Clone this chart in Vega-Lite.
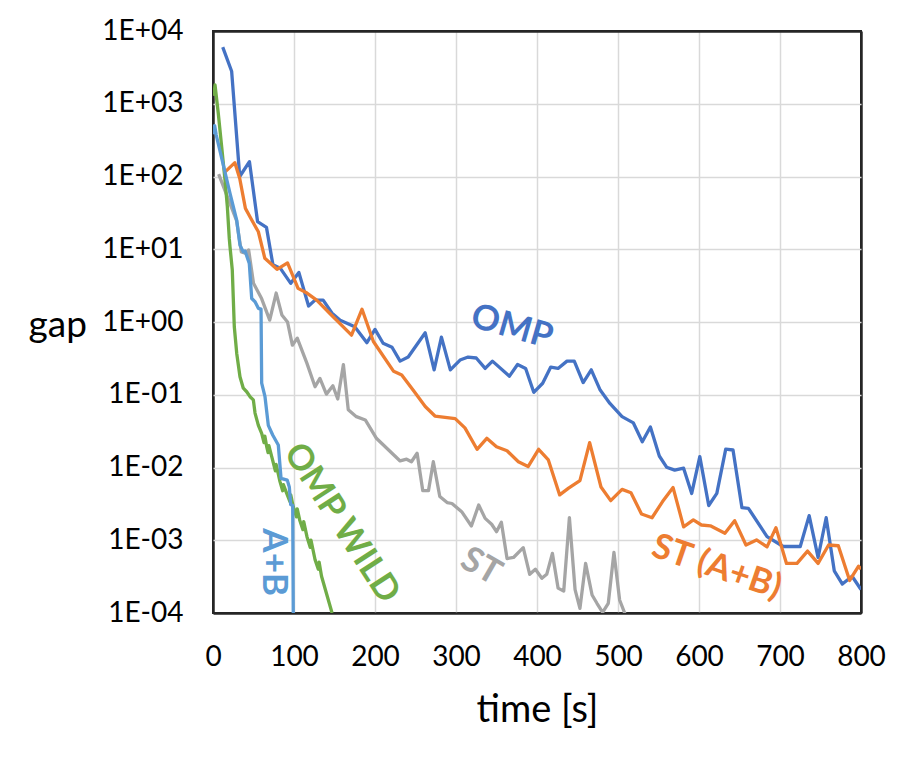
{
  "$schema": "https://vega.github.io/schema/vega-lite/v6.json",
  "width": 648,
  "height": 582,
  "autosize": {"type": "none"},
  "padding": {"left": 213, "top": 31, "right": 48, "bottom": 146},
  "background": "white",
  "config": {
    "font": "Lato",
    "view": {"stroke": "#262626", "strokeWidth": 2},
    "axis": {
      "labelFont": "Lato",
      "titleFont": "Lato",
      "labelColor": "#000000",
      "titleColor": "#000000",
      "titleFontWeight": "normal",
      "domain": false,
      "ticks": false
    }
  },
  "datasets": {
    "series": [
      {"s": "OMP", "t": 12, "g": 6000}, {"s": "OMP", "t": 23, "g": 2800}, {"s": "OMP", "t": 33, "g": 100},
      {"s": "OMP", "t": 45, "g": 160}, {"s": "OMP", "t": 55, "g": 24}, {"s": "OMP", "t": 66, "g": 20},
      {"s": "OMP", "t": 74, "g": 6.1}, {"s": "OMP", "t": 83, "g": 5.5}, {"s": "OMP", "t": 96, "g": 3.4},
      {"s": "OMP", "t": 106, "g": 4.8}, {"s": "OMP", "t": 118, "g": 1.66}, {"s": "OMP", "t": 126, "g": 2.0},
      {"s": "OMP", "t": 136, "g": 2.0}, {"s": "OMP", "t": 147, "g": 1.32}, {"s": "OMP", "t": 157, "g": 1.06},
      {"s": "OMP", "t": 175, "g": 0.86}, {"s": "OMP", "t": 190, "g": 0.52}, {"s": "OMP", "t": 200, "g": 0.79},
      {"s": "OMP", "t": 210, "g": 0.51}, {"s": "OMP", "t": 221, "g": 0.45}, {"s": "OMP", "t": 231, "g": 0.29},
      {"s": "OMP", "t": 241, "g": 0.33}, {"s": "OMP", "t": 262, "g": 0.71}, {"s": "OMP", "t": 273, "g": 0.22},
      {"s": "OMP", "t": 282, "g": 0.62}, {"s": "OMP", "t": 293, "g": 0.22}, {"s": "OMP", "t": 305, "g": 0.30},
      {"s": "OMP", "t": 315, "g": 0.33}, {"s": "OMP", "t": 325, "g": 0.32}, {"s": "OMP", "t": 336, "g": 0.23},
      {"s": "OMP", "t": 345, "g": 0.29}, {"s": "OMP", "t": 366, "g": 0.18}, {"s": "OMP", "t": 376, "g": 0.26},
      {"s": "OMP", "t": 386, "g": 0.23}, {"s": "OMP", "t": 396, "g": 0.108}, {"s": "OMP", "t": 407, "g": 0.144},
      {"s": "OMP", "t": 417, "g": 0.24}, {"s": "OMP", "t": 426, "g": 0.23}, {"s": "OMP", "t": 437, "g": 0.29},
      {"s": "OMP", "t": 446, "g": 0.29}, {"s": "OMP", "t": 457, "g": 0.147}, {"s": "OMP", "t": 467, "g": 0.22},
      {"s": "OMP", "t": 478, "g": 0.116}, {"s": "OMP", "t": 490, "g": 0.076}, {"s": "OMP", "t": 505, "g": 0.050},
      {"s": "OMP", "t": 519, "g": 0.041}, {"s": "OMP", "t": 530, "g": 0.0226}, {"s": "OMP", "t": 540, "g": 0.036},
      {"s": "OMP", "t": 551, "g": 0.0144}, {"s": "OMP", "t": 560, "g": 0.0101}, {"s": "OMP", "t": 570, "g": 0.0092},
      {"s": "OMP", "t": 581, "g": 0.0098}, {"s": "OMP", "t": 591, "g": 0.0044}, {"s": "OMP", "t": 601, "g": 0.0141},
      {"s": "OMP", "t": 612, "g": 0.0030}, {"s": "OMP", "t": 622, "g": 0.0044}, {"s": "OMP", "t": 633, "g": 0.0179},
      {"s": "OMP", "t": 642, "g": 0.0174}, {"s": "OMP", "t": 653, "g": 0.0028}, {"s": "OMP", "t": 661, "g": 0.00275},
      {"s": "OMP", "t": 684, "g": 0.00112}, {"s": "OMP", "t": 704, "g": 0.00082}, {"s": "OMP", "t": 725, "g": 0.00082},
      {"s": "OMP", "t": 736, "g": 0.00218}, {"s": "OMP", "t": 747, "g": 0.00058}, {"s": "OMP", "t": 757, "g": 0.00204},
      {"s": "OMP", "t": 767, "g": 0.00038}, {"s": "OMP", "t": 777, "g": 0.00025}, {"s": "OMP", "t": 789, "g": 0.00032},
      {"s": "OMP", "t": 800, "g": 0.00021},

      {"s": "ST (A+B)", "t": 14, "g": 113}, {"s": "ST (A+B)", "t": 27, "g": 155}, {"s": "ST (A+B)", "t": 33, "g": 94},
      {"s": "ST (A+B)", "t": 40, "g": 36.5}, {"s": "ST (A+B)", "t": 48, "g": 25}, {"s": "ST (A+B)", "t": 56, "g": 17.4},
      {"s": "ST (A+B)", "t": 64, "g": 7.5}, {"s": "ST (A+B)", "t": 79, "g": 5.3}, {"s": "ST (A+B)", "t": 92, "g": 6.5},
      {"s": "ST (A+B)", "t": 105, "g": 2.9}, {"s": "ST (A+B)", "t": 116, "g": 2.5}, {"s": "ST (A+B)", "t": 128, "g": 2.0},
      {"s": "ST (A+B)", "t": 144, "g": 1.32}, {"s": "ST (A+B)", "t": 171, "g": 0.66}, {"s": "ST (A+B)", "t": 184, "g": 1.5},
      {"s": "ST (A+B)", "t": 198, "g": 0.54}, {"s": "ST (A+B)", "t": 223, "g": 0.21}, {"s": "ST (A+B)", "t": 233, "g": 0.187},
      {"s": "ST (A+B)", "t": 247, "g": 0.116}, {"s": "ST (A+B)", "t": 262, "g": 0.069}, {"s": "ST (A+B)", "t": 274, "g": 0.051},
      {"s": "ST (A+B)", "t": 299, "g": 0.047}, {"s": "ST (A+B)", "t": 311, "g": 0.035}, {"s": "ST (A+B)", "t": 326, "g": 0.0178},
      {"s": "ST (A+B)", "t": 338, "g": 0.0252}, {"s": "ST (A+B)", "t": 350, "g": 0.0193}, {"s": "ST (A+B)", "t": 363, "g": 0.017},
      {"s": "ST (A+B)", "t": 377, "g": 0.012}, {"s": "ST (A+B)", "t": 389, "g": 0.0103}, {"s": "ST (A+B)", "t": 402, "g": 0.0178},
      {"s": "ST (A+B)", "t": 414, "g": 0.0127}, {"s": "ST (A+B)", "t": 428, "g": 0.0042}, {"s": "ST (A+B)", "t": 439, "g": 0.0052},
      {"s": "ST (A+B)", "t": 453, "g": 0.0066}, {"s": "ST (A+B)", "t": 465, "g": 0.022}, {"s": "ST (A+B)", "t": 479, "g": 0.0054},
      {"s": "ST (A+B)", "t": 491, "g": 0.0035}, {"s": "ST (A+B)", "t": 505, "g": 0.0050}, {"s": "ST (A+B)", "t": 516, "g": 0.0045},
      {"s": "ST (A+B)", "t": 529, "g": 0.0023}, {"s": "ST (A+B)", "t": 542, "g": 0.00204}, {"s": "ST (A+B)", "t": 555, "g": 0.0034},
      {"s": "ST (A+B)", "t": 568, "g": 0.0053}, {"s": "ST (A+B)", "t": 581, "g": 0.00153}, {"s": "ST (A+B)", "t": 593, "g": 0.0019},
      {"s": "ST (A+B)", "t": 603, "g": 0.00162}, {"s": "ST (A+B)", "t": 614, "g": 0.00158}, {"s": "ST (A+B)", "t": 632, "g": 0.00125},
      {"s": "ST (A+B)", "t": 644, "g": 0.00186}, {"s": "ST (A+B)", "t": 658, "g": 0.00086}, {"s": "ST (A+B)", "t": 671, "g": 0.00101},
      {"s": "ST (A+B)", "t": 684, "g": 0.00081}, {"s": "ST (A+B)", "t": 695, "g": 0.00149}, {"s": "ST (A+B)", "t": 708, "g": 0.00048},
      {"s": "ST (A+B)", "t": 721, "g": 0.00048}, {"s": "ST (A+B)", "t": 734, "g": 0.00071}, {"s": "ST (A+B)", "t": 747, "g": 0.00048},
      {"s": "ST (A+B)", "t": 760, "g": 0.00086}, {"s": "ST (A+B)", "t": 772, "g": 0.00084}, {"s": "ST (A+B)", "t": 786, "g": 0.00028},
      {"s": "ST (A+B)", "t": 797, "g": 0.00044}, {"s": "ST (A+B)", "t": 800, "g": 0.0004},

      {"s": "ST", "t": 7, "g": 108}, {"s": "ST", "t": 29, "g": 25}, {"s": "ST", "t": 35, "g": 9.2},
      {"s": "ST", "t": 40, "g": 8.8}, {"s": "ST", "t": 44, "g": 9.8}, {"s": "ST", "t": 50, "g": 3.4},
      {"s": "ST", "t": 60, "g": 2.1}, {"s": "ST", "t": 70, "g": 1.06}, {"s": "ST", "t": 78, "g": 2.5},
      {"s": "ST", "t": 85, "g": 1.25}, {"s": "ST", "t": 92, "g": 1.0}, {"s": "ST", "t": 98, "g": 0.48},
      {"s": "ST", "t": 104, "g": 0.6}, {"s": "ST", "t": 116, "g": 0.27}, {"s": "ST", "t": 126, "g": 0.129},
      {"s": "ST", "t": 132, "g": 0.168}, {"s": "ST", "t": 140, "g": 0.102}, {"s": "ST", "t": 148, "g": 0.133},
      {"s": "ST", "t": 154, "g": 0.0875}, {"s": "ST", "t": 161, "g": 0.26}, {"s": "ST", "t": 167, "g": 0.062},
      {"s": "ST", "t": 177, "g": 0.05}, {"s": "ST", "t": 188, "g": 0.045}, {"s": "ST", "t": 202, "g": 0.025},
      {"s": "ST", "t": 231, "g": 0.0123}, {"s": "ST", "t": 239, "g": 0.013}, {"s": "ST", "t": 245, "g": 0.012},
      {"s": "ST", "t": 252, "g": 0.0157}, {"s": "ST", "t": 259, "g": 0.0048}, {"s": "ST", "t": 266, "g": 0.0048},
      {"s": "ST", "t": 272, "g": 0.012}, {"s": "ST", "t": 280, "g": 0.0040}, {"s": "ST", "t": 289, "g": 0.0033},
      {"s": "ST", "t": 295, "g": 0.0032}, {"s": "ST", "t": 307, "g": 0.00247}, {"s": "ST", "t": 319, "g": 0.00157},
      {"s": "ST", "t": 328, "g": 0.00305}, {"s": "ST", "t": 336, "g": 0.002}, {"s": "ST", "t": 344, "g": 0.00166},
      {"s": "ST", "t": 350, "g": 0.00131}, {"s": "ST", "t": 356, "g": 0.00177}, {"s": "ST", "t": 363, "g": 0.00056},
      {"s": "ST", "t": 371, "g": 0.00058}, {"s": "ST", "t": 383, "g": 0.00079}, {"s": "ST", "t": 391, "g": 0.00034},
      {"s": "ST", "t": 398, "g": 0.0004}, {"s": "ST", "t": 406, "g": 0.0003}, {"s": "ST", "t": 412, "g": 0.00034},
      {"s": "ST", "t": 419, "g": 0.00066}, {"s": "ST", "t": 426, "g": 0.00022}, {"s": "ST", "t": 433, "g": 0.0002},
      {"s": "ST", "t": 440, "g": 0.00204}, {"s": "ST", "t": 447, "g": 0.00021}, {"s": "ST", "t": 453, "g": 0.000116},
      {"s": "ST", "t": 460, "g": 0.00048}, {"s": "ST", "t": 468, "g": 0.000177}, {"s": "ST", "t": 474, "g": 0.000136},
      {"s": "ST", "t": 481, "g": 0.000102}, {"s": "ST", "t": 488, "g": 0.000136}, {"s": "ST", "t": 495, "g": 0.00068},
      {"s": "ST", "t": 502, "g": 0.000151}, {"s": "ST", "t": 509, "g": 0.000095},

      {"s": "OMP WILD", "t": 1, "g": 1280}, {"s": "OMP WILD", "t": 2.5, "g": 1810}, {"s": "OMP WILD", "t": 6.5, "g": 740},
      {"s": "OMP WILD", "t": 10.7, "g": 257}, {"s": "OMP WILD", "t": 14.8, "g": 90}, {"s": "OMP WILD", "t": 17.7, "g": 38.5},
      {"s": "OMP WILD", "t": 20.1, "g": 14.1}, {"s": "OMP WILD", "t": 21, "g": 10.8}, {"s": "OMP WILD", "t": 23.8, "g": 5.2},
      {"s": "OMP WILD", "t": 26.3, "g": 0.86}, {"s": "OMP WILD", "t": 29.3, "g": 0.37}, {"s": "OMP WILD", "t": 33.3, "g": 0.177},
      {"s": "OMP WILD", "t": 37.4, "g": 0.123}, {"s": "OMP WILD", "t": 41.6, "g": 0.110}, {"s": "OMP WILD", "t": 45.7, "g": 0.094},
      {"s": "OMP WILD", "t": 49.8, "g": 0.085}, {"s": "OMP WILD", "t": 51.9, "g": 0.056}, {"s": "OMP WILD", "t": 56, "g": 0.038},
      {"s": "OMP WILD", "t": 60.1, "g": 0.0295}, {"s": "OMP WILD", "t": 63, "g": 0.022}, {"s": "OMP WILD", "t": 64, "g": 0.027},
      {"s": "OMP WILD", "t": 66.3, "g": 0.0193}, {"s": "OMP WILD", "t": 68, "g": 0.016}, {"s": "OMP WILD", "t": 69, "g": 0.020},
      {"s": "OMP WILD", "t": 72.5, "g": 0.0141}, {"s": "OMP WILD", "t": 77, "g": 0.009}, {"s": "OMP WILD", "t": 78, "g": 0.011},
      {"s": "OMP WILD", "t": 82.7, "g": 0.0064}, {"s": "OMP WILD", "t": 86, "g": 0.0048}, {"s": "OMP WILD", "t": 87, "g": 0.0058},
      {"s": "OMP WILD", "t": 91, "g": 0.0044}, {"s": "OMP WILD", "t": 95, "g": 0.0034}, {"s": "OMP WILD", "t": 96, "g": 0.0042},
      {"s": "OMP WILD", "t": 99, "g": 0.0029}, {"s": "OMP WILD", "t": 103, "g": 0.0021}, {"s": "OMP WILD", "t": 104, "g": 0.0027},
      {"s": "OMP WILD", "t": 107, "g": 0.0019}, {"s": "OMP WILD", "t": 111, "g": 0.0014}, {"s": "OMP WILD", "t": 112, "g": 0.0018},
      {"s": "OMP WILD", "t": 116, "g": 0.00112}, {"s": "OMP WILD", "t": 120, "g": 0.0008}, {"s": "OMP WILD", "t": 121, "g": 0.001},
      {"s": "OMP WILD", "t": 126, "g": 0.00054}, {"s": "OMP WILD", "t": 130, "g": 0.0004}, {"s": "OMP WILD", "t": 131, "g": 0.0005},
      {"s": "OMP WILD", "t": 134, "g": 0.00032}, {"s": "OMP WILD", "t": 140, "g": 0.000187}, {"s": "OMP WILD", "t": 147, "g": 0.0001},

      {"s": "A+B", "t": 0.3, "g": 380}, {"s": "A+B", "t": 2, "g": 500}, {"s": "A+B", "t": 4, "g": 371},
      {"s": "A+B", "t": 21, "g": 58.8}, {"s": "A+B", "t": 29.3, "g": 25}, {"s": "A+B", "t": 33.3, "g": 11.4},
      {"s": "A+B", "t": 37.4, "g": 9.2}, {"s": "A+B", "t": 39.5, "g": 9.5}, {"s": "A+B", "t": 44.8, "g": 6.4},
      {"s": "A+B", "t": 47.8, "g": 2.1}, {"s": "A+B", "t": 51.9, "g": 1.9}, {"s": "A+B", "t": 56, "g": 1.54},
      {"s": "A+B", "t": 59.3, "g": 1.5}, {"s": "A+B", "t": 60.1, "g": 0.144}, {"s": "A+B", "t": 64.2, "g": 0.094},
      {"s": "A+B", "t": 68.3, "g": 0.038}, {"s": "A+B", "t": 73.7, "g": 0.028}, {"s": "A+B", "t": 80.6, "g": 0.0204},
      {"s": "A+B", "t": 84, "g": 0.0071}, {"s": "A+B", "t": 91.7, "g": 0.0067}, {"s": "A+B", "t": 94.2, "g": 0.0054},
      {"s": "A+B", "t": 95.9, "g": 0.0031}, {"s": "A+B", "t": 98.4, "g": 0.0030}, {"s": "A+B", "t": 99.1, "g": 0.00009}
    ],
    "labels": [
      {"s": "OMP", "label": "OMP", "t": 369, "g": 0.86, "angle": 16},
      {"s": "ST (A+B)", "label": "ST (A+B)", "t": 622, "g": 0.00043, "angle": 19},
      {"s": "ST", "label": "ST", "t": 331, "g": 0.00044, "angle": 30},
      {"s": "OMP WILD", "label": "OMP WILD", "t": 159, "g": 0.00173, "angle": 57},
      {"s": "A+B", "label": "A+B", "t": 75, "g": 0.0005, "angle": 90}
    ]
  },
  "encoding": {
    "x": {
      "field": "t",
      "type": "quantitative",
      "scale": {"domain": [0, 800], "nice": false, "zero": false},
      "axis": {
        "title": "time [s]",
        "values": [0, 100, 200, 300, 400, 500, 600, 700, 800],
        "labelFontSize": 28,
        "labelPadding": 30,
        "labelFlush": false,
        "titleFontSize": 38,
        "titleBaseline": "alphabetic",
        "titleY": 108,
        "grid": true,
        "gridColor": {"condition": {"test": "datum.value == 0 || datum.value == 800", "value": "#262626"}, "value": "#d9d9d9"},
        "gridWidth": {"condition": {"test": "datum.value == 0 || datum.value == 800", "value": 2.5}, "value": 1.5}
      }
    },
    "y": {
      "field": "g",
      "type": "quantitative",
      "scale": {"type": "log", "domain": [0.0001, 10000], "nice": false},
      "axis": {
        "title": "gap",
        "values": [0.0001, 0.001, 0.01, 0.1, 1, 10, 100, 1000, 10000],
        "labelExpr": "'1E' + (datum.value >= 1 ? '+' : '-') + '0' + abs(round(log(datum.value) / LN10))",
        "labelFontSize": 28,
        "labelPadding": 30,
        "labelFlush": false,
        "titleFontSize": 37,
        "titleAngle": 0,
        "titleAlign": "left",
        "titleBaseline": "alphabetic",
        "titleX": -185,
        "titleY": 305,
        "grid": true,
        "gridColor": {"condition": {"test": "datum.value < 0.0002 || datum.value > 5000", "value": "#262626"}, "value": "#d9d9d9"},
        "gridWidth": {"condition": {"test": "datum.value < 0.0002 || datum.value > 5000", "value": 2.5}, "value": 1.5}
      }
    },
    "color": {
      "field": "s",
      "type": "nominal",
      "scale": {
        "domain": ["OMP", "ST (A+B)", "ST", "OMP WILD", "A+B"],
        "range": ["#4472C4", "#ED7D31", "#A5A5A5", "#70AD47", "#5B9BD5"]
      },
      "legend": null
    }
  },
  "layer": [
    {
      "data": {"name": "series"},
      "mark": {"type": "line", "strokeWidth": 3.3, "clip": true, "strokeJoin": "round"}
    },
    {
      "data": {"name": "labels"},
      "mark": {"type": "text", "font": "Lato", "fontWeight": "bold", "fontSize": 35, "align": "center", "baseline": "middle"},
      "encoding": {
        "text": {"field": "label"},
        "angle": {"field": "angle", "type": "quantitative", "scale": null}
      }
    }
  ]
}
